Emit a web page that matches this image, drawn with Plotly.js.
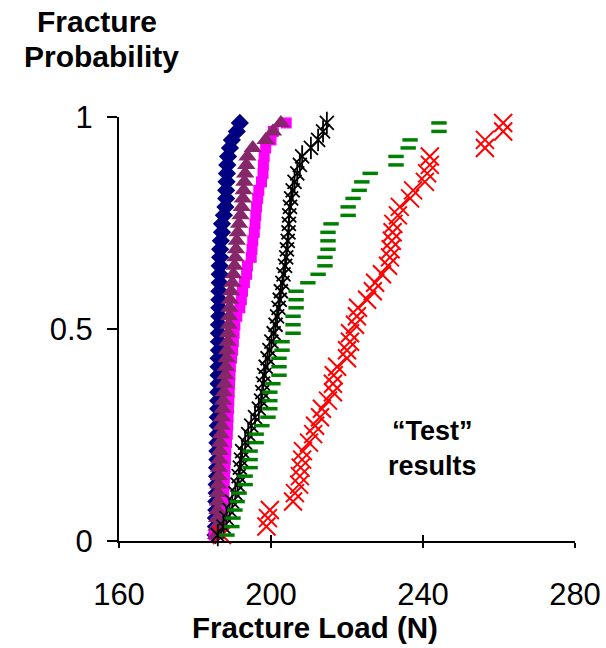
<!DOCTYPE html>
<html>
<head>
<meta charset="utf-8">
<script src="https://cdn.plot.ly/plotly-3.0.1.min.js"></script>
<style>html,body{margin:0;padding:0;background:#fff;}#chart{width:606px;height:648px;}</style>
</head>
<body>
<div id="chart"></div>
<script>
// Fracture probability (shared rank levels)
const prob = [0.014,0.034,0.054,0.073,0.093,0.113,0.133,0.153,0.173,0.192,
  0.212,0.232,0.252,0.272,0.292,0.312,0.331,0.351,0.371,0.391,
  0.411,0.431,0.450,0.470,0.490,0.510,0.530,0.550,0.569,0.589,
  0.609,0.629,0.649,0.669,0.688,0.708,0.728,0.748,0.768,0.788,
  0.808,0.827,0.847,0.867,0.887,0.907,0.927,0.946,0.966,0.986];

// Fracture loads (N) per series
const loadF1 = [185.4,185.5,185.5,185.6,185.6,185.7,185.7,185.8,185.8,185.9,
  185.9,185.9,186.0,186.0,186.0,186.1,186.1,186.1,186.2,186.2,
  186.2,186.2,186.3,186.3,186.3,186.3,186.4,186.4,186.4,186.4,
  186.5,186.5,186.5,186.6,186.6,186.8,187.1,187.1,187.6,188.0,
  188.2,188.2,188.3,188.4,188.5,188.7,189.2,189.7,191.0,191.8];
const loadDP = [185.0,186.5,187.0,187.3,187.5,187.6,187.7,187.8,187.9,188.0,
  188.1,188.3,188.5,188.6,188.7,188.8,188.9,189.0,189.1,189.2,
  189.3,189.6,189.9,190.1,190.3,190.5,191.0,191.8,192.2,192.5,
  193.0,193.6,193.8,194.8,195.0,195.2,195.6,195.8,196.0,196.2,
  196.5,196.8,197.5,197.9,198.0,198.2,198.6,200.0,200.6,204.0];
const loadTri = [185.6,185.7,185.8,185.9,186.0,186.0,186.1,186.2,186.3,186.4,
  186.5,186.6,186.8,187.0,187.1,187.3,187.4,187.6,187.8,188.0,
  188.1,188.3,188.4,188.6,188.7,188.9,189.0,189.1,189.2,189.5,
  189.8,190.1,190.4,190.6,190.8,191.0,191.3,191.6,192.0,192.3,
  192.6,192.8,193.0,193.2,193.5,193.8,195.2,198.6,200.5,202.6];
const loadD1 = [186.0,187.5,188.3,189.1,189.8,190.6,191.2,191.5,191.8,192.1,
  192.4,193.2,194.0,194.8,195.8,196.8,197.4,197.7,197.9,198.2,
  198.6,199.1,199.6,200.1,200.7,201.2,201.6,202.0,202.3,202.6,
  203.0,203.3,203.7,204.0,204.2,204.4,204.6,204.7,204.8,205.0,
  205.3,205.7,206.2,206.9,207.6,208.2,210.5,212.4,213.7,214.7];
const loadF2 = [188.4,189.7,190.0,190.5,191.1,191.6,193.2,193.2,194.5,194.5,
  194.5,196.1,196.1,197.6,199.2,199.7,199.7,199.7,200.5,202.1,
  202.1,202.1,202.9,202.9,205.8,205.8,205.8,206.6,206.6,206.6,
  209.7,212.4,214.2,214.2,215.0,215.0,215.0,215.8,220.3,220.3,
  221.6,223.2,223.9,226.1,232.9,232.9,236.1,236.6,244.2,244.2];
const loadD3 = [187.1,198.8,199.2,199.7,205.8,206.3,207.4,207.6,207.8,208.2,
  208.4,210.0,211.1,211.6,212.9,213.4,215.0,216.3,216.3,216.5,
  217.4,220.0,220.0,220.8,220.8,222.1,222.6,222.9,225.3,226.8,
  227.4,229.2,230.8,231.3,231.5,231.8,232.0,232.2,233.4,233.9,
  236.6,237.4,240.5,241.1,241.8,241.8,256.3,256.3,261.1,261.1];

// Series labels and the load at which each sits above the curves
const labelNames = ['F1','DP','D1','D2','F2','D3'];
const labelLoads = [185.5,199.7,210.8,222.9,243.4,262.6];
const xTicks = [160,200,240,280];
const yTicks = [0,0.5,1];

const FONT = 'Liberation Sans, Arial, sans-serif';

function pts(x, symbol, size, color, lineColor, lineWidth, name) {
  return {
    type: 'scatter', mode: 'markers', x: x, y: prob, name: name,
    cliponaxis: false, showlegend: false, hoverinfo: 'skip',
    marker: {symbol: symbol, size: size, color: color,
      line: {color: lineColor, width: lineWidth}}
  };
}

const traces = [
  pts(loadF1, 'diamond', 14, '#000080', '#000080', 0, 'F1'),
  pts(loadDP, 'square', 11, '#FF00FF', '#FF00FF', 0, 'DP'),
  pts(loadTri, 'triangle-up', 16, '#86276A', '#86276A', 0, 'DP2'),
  pts(loadD3, 'x-thin-open', 18, '#FF0000', '#FF0000', 2, 'D3'),
  pts(loadD1, 'x-thin-open', 14, '#000000', '#000000', 1.8, 'D1'),
  pts(loadD1, 'line-ns-open', 16, '#000000', '#000000', 1.8, 'D1b'),
  pts(loadF2, 'line-ew-open', 11, '#008000', '#008000', 3.5, 'F2'),
  // second x-axis only to draw the inner half of the crossing ticks
  {type: 'scatter', mode: 'markers', x: [], y: [], xaxis: 'x2', yaxis: 'y', showlegend: false}
];

const annotations = labelNames.map((t, i) => ({
  text: '<b>' + t + '</b>', x: labelLoads[i], y: 1.033, xref: 'x', yref: 'y',
  showarrow: false, xanchor: 'center', yanchor: 'middle',
  font: {family: FONT, size: 24, color: '#000'}
}));
// y-axis title, two lines placed as in the picture
annotations.push({
  text: '<b>Fracture</b>', xref: 'paper', yref: 'paper',
  x: -0.048, y: 1 + (117 - 21) / 424, showarrow: false, xanchor: 'center', yanchor: 'middle',
  font: {family: FONT, size: 30, color: '#000'}
});
annotations.push({
  text: '<b>Probability</b>', xref: 'paper', yref: 'paper',
  x: -0.038, y: 1 + (117 - 56) / 424, showarrow: false, xanchor: 'center', yanchor: 'middle',
  font: {family: FONT, size: 30, color: '#000'}
});
annotations.push({
  text: '<b>Fracture Load (N)</b>', xref: 'x', yref: 'paper',
  x: 211.6, y: -0.205, showarrow: false, xanchor: 'center', yanchor: 'middle',
  font: {family: FONT, size: 29.5, color: '#000'}
});
annotations.push({
  text: '<b>\u201CTest\u201D<br>results</b>', xref: 'x', yref: 'y',
  x: 242.4, y: 0.217, showarrow: false, xanchor: 'center', yanchor: 'middle',
  align: 'center', font: {family: FONT, size: 27, color: '#000'}
});

const layout = {
  width: 606, height: 648,
  margin: {l: 119, r: 31, t: 117, b: 107, pad: 0},
  paper_bgcolor: '#fff', plot_bgcolor: '#fff',
  showlegend: false,
  xaxis: {
    range: [160, 280], tickmode: 'array', tickvals: xTicks,
    ticktext: xTicks.map(String),
    showgrid: false, zeroline: false, showline: true, linecolor: '#000', linewidth: 2,
    ticks: 'outside', ticklen: 5, tickwidth: 2, tickcolor: '#000',
    ticklabelstandoff: 20,
    tickfont: {family: FONT, size: 31, color: '#000'}
  },
  xaxis2: {
    range: [160, 280], overlaying: 'x', anchor: 'y', side: 'bottom',
    tickmode: 'array', tickvals: xTicks, showticklabels: false,
    showgrid: false, zeroline: false, showline: false,
    ticks: 'inside', ticklen: 6, tickwidth: 2, tickcolor: '#000'
  },
  yaxis: {
    range: [0, 1], tickmode: 'array', tickvals: yTicks, ticktext: ['0', '0.5', '1'],
    showgrid: false, zeroline: false, showline: true, linecolor: '#000', linewidth: 2,
    ticks: 'outside', ticklen: 10, tickwidth: 2, tickcolor: '#000',
    ticklabelstandoff: 8,
    tickfont: {family: FONT, size: 31, color: '#000'}
  },
  annotations: annotations
};

Plotly.newPlot('chart', traces, layout, {displayModeBar: false, staticPlot: true});
</script>
</body>
</html>
